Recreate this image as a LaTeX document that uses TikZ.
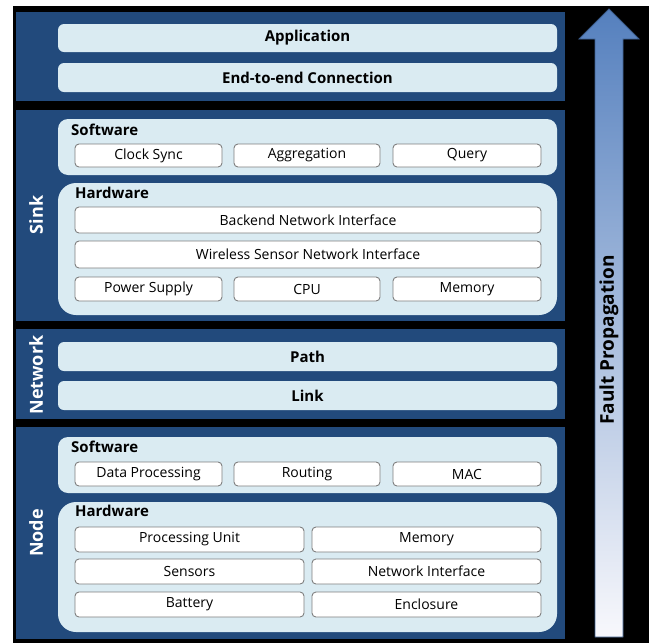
\documentclass[tikz,border=0pt]{standalone}
\usepackage{fontspec}
\setmainfont{Open Sans}
\definecolor{panel}{HTML}{224A7C}
\definecolor{light}{HTML}{DAEBF2}
\definecolor{inborder}{HTML}{7F7F7F}
\definecolor{arrtop}{HTML}{5580BE}
\definecolor{arrmid}{HTML}{A9BCDC}
\definecolor{arrbot}{HTML}{F8F8FC}
\definecolor{arredge}{HTML}{3D5F8F}
\tikzset{
  panelbox/.style={fill=panel, draw=none, inner sep=0pt},
  layerbox/.style={fill=light, draw=none, rounded corners=6pt, inner sep=0pt, font=\fontsize{15}{17}\selectfont\bfseries},
  groupbox/.style={fill=light, draw=none, rounded corners=10pt, inner sep=0pt},
  hwbox/.style={fill=light, draw=none, rounded corners=18pt, inner sep=0pt},
  itembox/.style={fill=white, draw=inborder, line width=0.9pt, rounded corners=4pt, inner sep=0pt, font=\fontsize{14}{16}\selectfont},
  grouplabel/.style={anchor=west, inner sep=0pt, font=\fontsize{15}{17}\selectfont\bfseries},
  sidelabel/.style={rotate=90, text=white, inner sep=0pt, font=\fontsize{18}{20}\selectfont\bfseries},
}
\newcommand{\bx}[7]{\node[#6, minimum width={#4-#2}, minimum height={#5-#3}] (#1) at ({(#2+#4)/2},{(#3+#5)/2}) {#7};}
\begin{document}
\begin{tikzpicture}[x=1pt, y=-1pt]
\useasboundingbox (0,0) rectangle (650,643);
\fill[black] (13,6) rectangle (649,643);
% panels
\bx{ptop}{16}{12}{565}{101}{panelbox}{}
\bx{psink}{16}{110}{565}{321}{panelbox}{}
\bx{pnet}{16}{329}{565}{419}{panelbox}{}
\bx{pnode}{16}{427}{565}{639}{panelbox}{}
% top layers
\bx{app}{58}{24}{557}{52}{layerbox}{Application}
\bx{e2e}{58}{63}{557}{92}{layerbox}{End-to-end Connection}
% sink
\bx{ssw}{58}{119}{557}{175}{groupbox}{}
\node[grouplabel] (sswl) at (71,130) {Software};
\bx{clock}{75}{144}{222}{167}{itembox}{Clock Sync}
\bx{aggr}{234}{144}{380}{167}{itembox}{Aggregation}
\bx{query}{393}{144}{541}{167}{itembox}{Query}
\bx{shw}{58}{183}{557}{315}{hwbox}{}
\node[grouplabel] (shwl) at (75,193) {Hardware};
\bx{backend}{75}{207}{541}{233}{itembox}{Backend Network Interface}
\bx{wsn}{75}{241}{541}{268}{itembox}{Wireless Sensor Network Interface}
\bx{power}{75}{277}{222}{301}{itembox}{Power Supply}
\bx{cpu}{234}{277}{380}{301}{itembox}{CPU}
\bx{smem}{393}{277}{541}{301}{itembox}{Memory}
\node[sidelabel] (sinkl) at (36,215) {Sink};
% network
\bx{path}{58}{342}{557}{371}{layerbox}{Path}
\bx{link}{58}{381}{557}{410}{layerbox}{Link}
\node[sidelabel] (netl) at (36,375) {Network};
% node
\bx{nsw}{58}{437}{557}{493}{groupbox}{}
\node[grouplabel] (nswl) at (71,447) {Software};
\bx{dproc}{75}{462}{222}{486}{itembox}{Data Processing}
\bx{routing}{234}{462}{380}{486}{itembox}{Routing}
\bx{mac}{393}{462}{541}{486}{itembox}{MAC}
\bx{nhw}{58}{502}{557}{632}{hwbox}{}
\node[grouplabel] (nhwl) at (75,511) {Hardware};
\bx{pu}{75}{527}{304}{552}{itembox}{Processing Unit}
\bx{nmem}{312}{527}{541}{552}{itembox}{Memory}
\bx{sens}{75}{559}{304}{584}{itembox}{Sensors}
\bx{nif}{312}{559}{541}{584}{itembox}{Network Interface}
\bx{batt}{75}{592}{304}{617}{itembox}{Battery}
\bx{encl}{312}{592}{541}{617}{itembox}{Enclosure}
\node[sidelabel] (nodel) at (36,533) {Node};
% fault propagation arrow
\shade[top color=arrtop, middle color=arrmid, bottom color=arrbot, draw=arredge, line width=0.8pt]
  (595,637) -- (595,39) -- (579,39) -- (609,9) -- (639,39) -- (623,39) -- (623,637) -- cycle;
\node[rotate=90, inner sep=0pt, font=\fontsize{19}{21}\selectfont\bfseries] (fault) at (609,340) {Fault Propagation};
\end{tikzpicture}
\end{document}
